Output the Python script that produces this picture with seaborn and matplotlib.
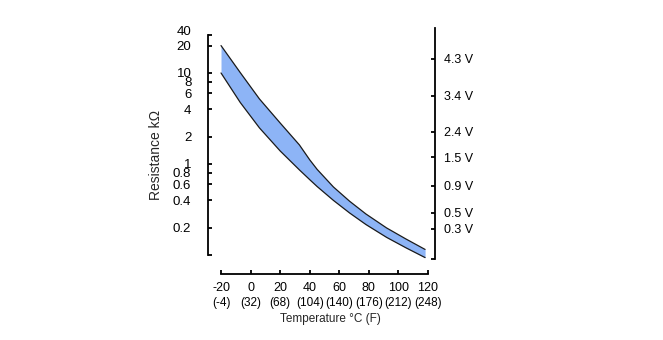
import numpy as np
import pandas as pd
import matplotlib
matplotlib.use("Agg")
import matplotlib.pyplot as plt
import seaborn as sns

# ---- data ----
temp_c = [-20, -7, 6, 20, 33, 40, 45, 56, 67, 78, 92, 105, 118]
r_upper = [20, 10.1, 5.18, 2.82, 1.62, 1.11, 0.872, 0.559, 0.389, 0.282, 0.198, 0.150, 0.115]
r_lower = [10, 4.74, 2.49, 1.39, 0.861, 0.672, 0.565, 0.398, 0.289, 0.216, 0.156, 0.120, 0.0936]

x_ticks = [-20, 0, 20, 40, 60, 80, 100, 120]
x_f_labels = ["(-4)", "(32)", "(68)", "(104)", "(140)", "(176)", "(212)", "(248)"]

y_ticks = [0.1, 0.2, 0.4, 0.6, 0.8, 1, 2, 4, 6, 8, 10, 20, 26]
y_tick_labels = ["", "0.2", "0.4", "0.6", "0.8", "1", "2", "4", "6", "8", "10", "20", ""]
top_label = "40"
top_label_pos = 28.3

volt_positions = [0.0903, 0.193, 0.29, 0.573, 1.19, 2.25, 5.59, 14.3]
volt_labels = ["", "0.3 V", "0.5 V", "0.9 V", "1.5 V", "2.4 V", "3.4 V", "4.3 V"]

df = pd.DataFrame({"T": temp_c + temp_c,
                   "R": r_upper + r_lower,
                   "curve": ["upper"] * len(temp_c) + ["lower"] * len(temp_c)})

sns.set_style("ticks")
plt.rcParams["font.family"] = ["Liberation Sans", "DejaVu Sans"]

fig = plt.figure(figsize=(6.63, 3.40), dpi=100)
ax = fig.add_axes([208 / 663, 1 - 259 / 340, 227 / 663, 231 / 340])

ax.fill_between(temp_c, r_lower, r_upper, color="#8db4f6", linewidth=0)
sns.lineplot(data=df, x="T", y="R", units="curve", estimator=None,
             color="#1a1a1a", linewidth=0.9, ax=ax, legend=False)

ax.set_yscale("log")
ax.set_xlim(-28.8, 124.7)
ax.set_ylim(0.0903, 31.2)
ax.minorticks_off()

ax.set_yticks(y_ticks)
ax.set_yticklabels(y_tick_labels)
ax.set_xticks(x_ticks)
ax.set_xticklabels([str(v) for v in x_ticks])

for s in ["top", "right"]:
    ax.spines[s].set_visible(False)
ax.spines["left"].set_bounds(0.1, 26)
ax.spines["bottom"].set_bounds(-20, 120)
ax.spines["bottom"].set_position(("outward", 10.8))
for s in ["left", "bottom"]:
    ax.spines[s].set_linewidth(1.3)
    ax.spines[s].set_color("black")

ax.tick_params(axis="y", direction="in", length=3, width=1.3, pad=12,
               labelsize=9.5, colors="black")
ax.tick_params(axis="x", direction="in", length=3, width=1.3, pad=6,
               labelsize=9, colors="black")

ax.annotate(top_label, xy=(0, top_label_pos), xycoords=("axes fraction", "data"),
            xytext=(-12, 0), textcoords="offset points",
            ha="right", va="center", fontsize=9.5, color="black")

for xv, lab in zip(x_ticks, x_f_labels):
    ax.annotate(lab, xy=(xv, 0), xycoords=("data", "axes fraction"),
                xytext=(0, -31.5), textcoords="offset points",
                ha="center", va="center", fontsize=8.5, color="black")

ax.set_xlabel("Temperature °C (F)", fontsize=8.5)
ax.xaxis.set_label_coords((330 - 208) / 227, (259 - 319) / 231)
ax.xaxis.label.set_va("center")
ax.set_ylabel("Resistance kΩ", fontsize=10)
ax.yaxis.set_label_coords((156 - 208) / 227, (259 - 155) / 231)
ax.yaxis.label.set_va("center")

ax2 = ax.twinx()
ax2.set_yscale("log")
ax2.set_ylim(ax.get_ylim())
ax2.minorticks_off()
ax2.set_yticks(volt_positions)
ax2.set_yticklabels(volt_labels)
for s in ["top", "left", "bottom"]:
    ax2.spines[s].set_visible(False)
ax2.spines["right"].set_linewidth(1.3)
ax2.spines["right"].set_color("black")
ax2.tick_params(axis="y", direction="in", length=3, width=1.3, pad=6.5,
                labelsize=9, colors="black")

fig.savefig("out.png", dpi=100)
